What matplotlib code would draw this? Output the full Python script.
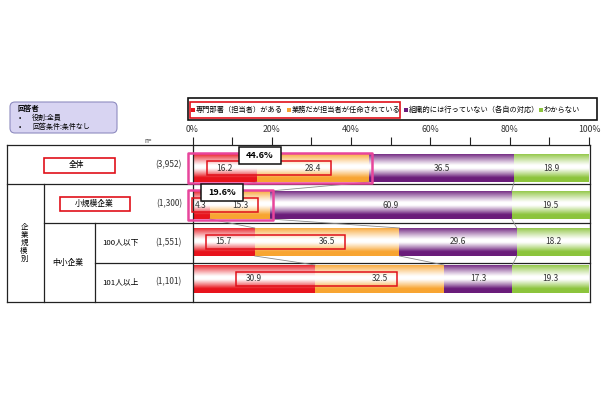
import numpy as np
import matplotlib
matplotlib.use('Agg')
import matplotlib.pyplot as plt
from matplotlib.patches import Rectangle, FancyBboxPatch
from matplotlib.colors import to_rgb

plt.rcParams['font.family'] = ['Noto Sans CJK JP', 'DejaVu Sans']

# data
categories = ['専門部署（担当者）がある', '業務だが担当者が任命されている',
              '組織的には行っていない（各自の対応）', 'わからない']
rows = ['全体', '小規模企業', '100人以下', '101人以上']
counts = ['(3,952)', '(1,300)', '(1,551)', '(1,101)']
values = np.array([
    [16.2, 28.4, 36.5, 18.9],
    [4.3, 15.3, 60.9, 19.5],
    [15.7, 36.5, 29.6, 18.2],
    [30.9, 32.5, 17.3, 19.3],
])
highlight = ['44.6%', '19.6%']
colors = ['#e8141c', '#f8a532', '#6a1c7a', '#8cc43c']


def grad_img(c, n=64):
    t = np.linspace(0, 1, n)
    w = np.where(t < 0.42, (1 - t / 0.42) ** 1.1, np.clip((t - 0.52) / 0.33, 0, 1) ** 1.1)
    rgb = np.array(to_rgb(c))
    img = 1 - w[:, None] * (1 - rgb[None, :])
    return np.repeat(img[:, None, :], 2, axis=1)


fig = plt.figure(figsize=(6.1, 4), dpi=100)

# overlay in pixel units for the table / legend / header box
ov = fig.add_axes([0, 0, 1, 1], zorder=0)
ov.set_xlim(0, 610)
ov.set_ylim(400, 0)
ov.axis('off')

lc = '#222222'
for y, x0, x1 in [(145, 7, 590), (184, 7, 590), (223, 44, 590), (263, 95, 590), (302, 7, 590)]:
    ov.plot([x0, x1], [y, y], color=lc, lw=0.9)
for x, y0, y1 in [(7, 145, 302), (44, 184, 302), (95, 223, 302), (590, 145, 302)]:
    ov.plot([x, x], [y0, y1], color=lc, lw=0.9)

row_y = [165, 204, 243, 282]
fs = 5.6
ov.text(76, row_y[0], rows[0], fontsize=fs, ha='center', va='center')
ov.add_patch(Rectangle((44, 158), 71, 15, fill=False, ec='#e0101a', lw=1.2))
ov.text(94, row_y[1], rows[1], fontsize=fs, ha='center', va='center')
ov.add_patch(Rectangle((60, 197), 70, 14, fill=False, ec='#e0101a', lw=1.2))
ov.text(102, row_y[2], rows[2], fontsize=fs, ha='left', va='center')
ov.text(102, row_y[3], rows[3], fontsize=fs, ha='left', va='center')
ov.text(68, 263, '中小企業', fontsize=fs, ha='center', va='center')
ov.text(24, 243, '\n'.join('企業規模別'), fontsize=5.4, ha='center', va='center', linespacing=1.0)
for y, c in zip(row_y, counts):
    ov.text(182, y, c, fontsize=6, ha='right', va='center', color='#333333')
ov.text(148, 141, 'n=', fontsize=4.5, ha='center', va='center', color='#333333')

# header box
ov.add_patch(FancyBboxPatch((10, 102), 107, 31, boxstyle='round,pad=0,rounding_size=5',
                            fc='#d8d4f2', ec='#8f8cc0', lw=0.8))
ov.text(18, 108, '回答者', fontsize=5.2, fontweight='bold', va='center')
ov.text(19, 118, '•', fontsize=5, va='center')
ov.text(32, 118, '役割:全員', fontsize=5, va='center')
ov.text(19, 127, '•', fontsize=5, va='center')
ov.text(32, 127, '回答条件:条件なし', fontsize=5, va='center')

# legend
ov.add_patch(Rectangle((188, 98), 409, 22, fill=False, ec='#111111', lw=1.2))
ov.add_patch(Rectangle((189.5, 102), 210.5, 16, fill=False, ec='#e0101a', lw=1.2))
for x, c, lab in zip([191, 287, 404, 539], colors, categories):
    ov.add_patch(Rectangle((x, 108), 3.5, 3.5, fc=c, ec='none'))
    ov.text(x + 5, 110, lab, fontsize=5.2, va='center', ha='left')

# bars
ax = fig.add_axes([192.5 / 610, (400 - 302) / 400, 396.5 / 610, 157 / 400], zorder=1)
ax.patch.set_alpha(0)
ypos = np.arange(len(rows))
h = 0.757
left = np.zeros(len(rows))
for k in range(len(categories)):
    bars = ax.barh(ypos, values[:, k], left=left, height=h, color='none', edgecolor='none')
    for bar in bars:
        x0, y0 = bar.get_x(), bar.get_y()
        im = ax.imshow(grad_img(colors[k]), extent=[x0, x0 + bar.get_width(), y0 + bar.get_height(), y0],
                       aspect='auto', interpolation='bilinear', zorder=2)
        im.set_clip_path(bar)
    for i in range(len(rows)):
        ax.text(left[i] + values[i, k] / 2, ypos[i], f'{values[i, k]:.1f}', fontsize=6,
                ha='center', va='center', color='#333333', zorder=5)
    left += values[:, k]

cum = np.cumsum(values, axis=1)
for i in range(len(rows) - 1):
    for k in range(3):
        ax.plot([cum[i, k], cum[i + 1, k]], [ypos[i] + h / 2, ypos[i + 1] - h / 2],
                color='#8a8a8a', lw=0.6, zorder=3)

# red boxes round the first two values
for i in range(len(rows)):
    c1 = values[i, 0] / 2
    c2 = values[i, 0] + values[i, 1] / 2
    x0 = max(c1 - 4.5, -0.1)
    ax.add_patch(Rectangle((x0, ypos[i] - 0.19), c2 + 4.5 - x0, 0.38, fill=False,
                           ec='#e0101a', lw=1.1, zorder=6, clip_on=False))

# pink boxes + highlight totals
hl_x = [17, 7.4]
for i, lab in enumerate(highlight):
    ax.add_patch(Rectangle((-1.1, ypos[i] - h / 2 - 0.03), cum[i, 1] + 1.8, h + 0.06, fill=False,
                           ec='#e8459c', lw=1.8, joinstyle='round', zorder=6, clip_on=False))
    ax.add_patch(Rectangle((hl_x[i] - 5.3, ypos[i] - 0.58), 10.6, 0.46, fc='white',
                           ec='#111111', lw=1.1, zorder=7, clip_on=False))
    ax.text(hl_x[i], ypos[i] - 0.35, lab, fontsize=6.5, fontweight='bold', ha='center',
            va='center', zorder=8)

ax.set_xlim(0, 100)
ax.set_ylim(3.622, -0.622)
ax.xaxis.tick_top()
ax.set_xticks(np.arange(0, 101, 20))
ax.set_xticklabels([f'{v}%' for v in range(0, 101, 20)])
ax.set_xticks(np.arange(10, 100, 20), minor=True)
ax.tick_params(axis='x', which='both', direction='out', length=5.8, width=0.8, color=lc,
               labelsize=6.3, pad=2, labelcolor='#333333')
ax.set_yticks([])
for s in ['top', 'right', 'bottom']:
    ax.spines[s].set_visible(False)
ax.spines['left'].set_linewidth(0.9)
ax.spines['left'].set_color(lc)

fig.savefig('out.png', dpi=100)
